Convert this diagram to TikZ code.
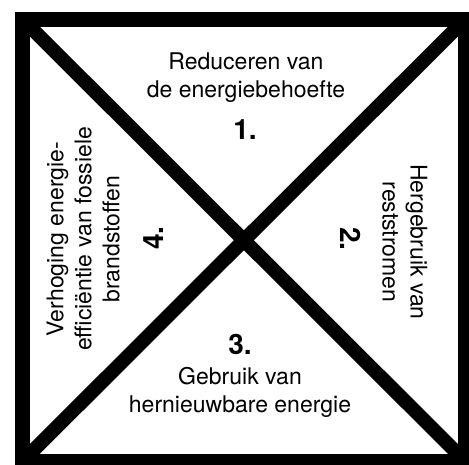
\documentclass[tikz,border=0pt]{standalone}
\usepackage{fontspec}
\setmainfont{TeX Gyre Heros}
\begin{document}
\begin{tikzpicture}[x=1pt, y=-1pt,
  frame/.style={draw=black, line width=15pt},
  diag/.style={draw=black, line width=14pt},
  lbl/.style={font=\fontsize{23}{28}\selectfont, align=center, inner sep=0pt},
  num/.style={font=\fontsize{28}{30}\selectfont\bfseries, inner sep=0pt, anchor=base}
]
\useasboundingbox (0,0) rectangle (469,464);
\coordinate (nw) at (22.75,19.5);
\coordinate (ne) at (465,19.5);
\coordinate (se) at (465,461);
\coordinate (sw) at (22.75,461);

% square and the two diagonals
\draw[frame] (nw) rectangle (se);
\draw[diag] (nw) -- (se);
\draw[diag] (ne) -- (sw);

% 1. top
\node[lbl] (reduce) at (246,77.2) {Reduceren van\\de energiebehoefte};
\node[num] (one) at (245,139) {1.};

% 2. right
\node[lbl, rotate=-90] (reuse) at (404.8,242) {Hergebruik van\\reststromen};
\node[num, rotate=-90] (two) at (340,239) {2.};

% 3. bottom
\node[num] (three) at (240,354) {3.};
\node[lbl] (renew) at (240,392.2) {Gebruik van\\hernieuwbare energie};

% 4. left
\node[lbl, rotate=90] (fossil) at (83.2,239) {Verhoging energie-\\efficiëntie van fossiele\\brandstoffen};
\node[num, rotate=90] (four) at (163,238) {4.};
\end{tikzpicture}
\end{document}
